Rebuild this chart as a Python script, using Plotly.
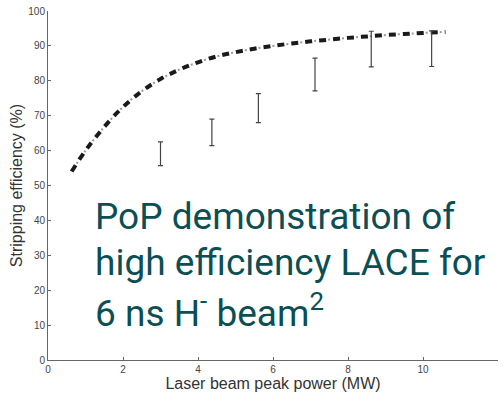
import plotly.graph_objects as go

# Theory curve (stripping efficiency vs laser peak power)
curve_x = [0.63, 1.0, 1.5, 2.0, 2.5, 3.0, 3.5, 4.0, 4.5, 5.0, 5.5, 6.0, 6.5, 7.0, 7.5, 8.0, 8.5, 9.0, 9.5, 10.0, 10.6]
curve_y = [54.0, 60.0, 66.8, 72.5, 77.0, 80.5, 83.2, 85.3, 87.0, 88.2, 89.2, 90.0, 90.7, 91.3, 91.8, 92.3, 92.7, 93.1, 93.4, 93.7, 94.0]

# Measured points as error ranges
meas_x = [3.0, 4.37, 5.61, 7.12, 8.62, 10.23]
meas_lo = [55.7, 61.4, 68.0, 77.1, 84.0, 84.1]
meas_hi = [62.5, 69.0, 76.3, 86.5, 94.2, 94.3]

x_ticks = [0, 2, 4, 6, 8, 10, 12]
y_ticks = [0, 10, 20, 30, 40, 50, 60, 70, 80, 90, 100]

text_lines = ["PoP demonstration of",
              "high efficiency LACE for",
              "6 ns H<sup>-</sup> beam<sup>2</sup>"]

meas_mid = [(a + b) / 2 for a, b in zip(meas_lo, meas_hi)]
meas_err = [(b - a) / 2 for a, b in zip(meas_lo, meas_hi)]

fig = go.Figure()
# light dots of the dash-dot line
fig.add_trace(go.Scatter(
    x=curve_x, y=curve_y, mode="lines", line_shape="spline",
    line=dict(color="#9a9a9a", width=2, dash="0px,9px,2px,3px"),
    hoverinfo="skip", showlegend=False))
# heavy dashes
fig.add_trace(go.Scatter(
    x=curve_x, y=curve_y, mode="lines", line_shape="spline",
    line=dict(color="#1a1a1a", width=4, dash="7px,7px"),
    hoverinfo="skip", showlegend=False))
fig.add_trace(go.Scatter(
    x=meas_x, y=meas_mid, mode="markers",
    marker=dict(size=1, color="rgba(0,0,0,0)"),
    error_y=dict(type="data", array=meas_err, visible=True,
                 color="#444444", thickness=1.2, width=2.5),
    showlegend=False))

axis_common = dict(showline=True, linecolor="#666666", linewidth=1,
                   ticks="inside", ticklen=3, tickcolor="#666666",
                   showgrid=False, zeroline=False, mirror=False,
                   tickfont=dict(family="Liberation Sans, Arial", size=10, color="#444444"))

fig.update_xaxes(range=[0, 12], tickvals=x_ticks, **axis_common,
                 title=dict(text="Laser beam peak power (MW)",
                            font=dict(family="Liberation Sans, Arial", size=16, color="#333333"),
                            standoff=3))
fig.update_yaxes(range=[0, 100], tickvals=y_ticks, **axis_common,
                 title=dict(text="Stripping efficiency (%)",
                            font=dict(family="Liberation Sans, Arial", size=16, color="#333333"),
                            standoff=1))

tops = [0.478, 0.347, 0.219]
for line, top in zip(text_lines, tops):
    fig.add_annotation(
        xref="paper", yref="paper", x=0.1, y=top, xanchor="left", yanchor="top",
        align="left", showarrow=False, text=line,
        font=dict(family="Roboto", size=37, color="#0b4f55"))

fig.update_layout(
    width=503, height=397,
    margin=dict(l=48, r=5, t=8, b=37),
    plot_bgcolor="white", paper_bgcolor="white")

fig.write_html("out.html")
